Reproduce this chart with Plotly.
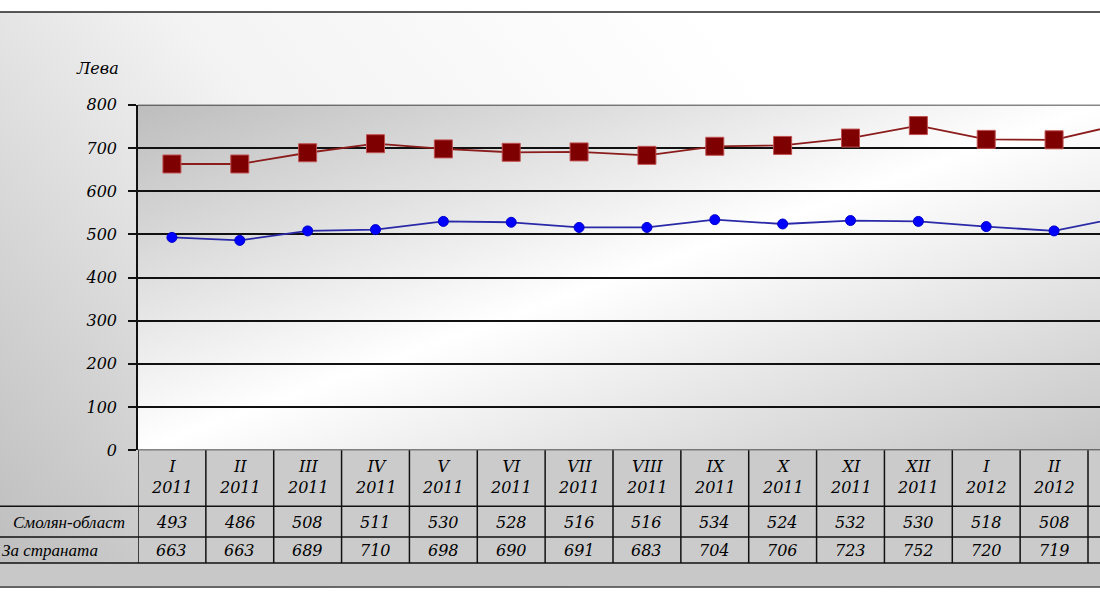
import base64
import plotly.graph_objects as go

# ---- data ----
months = ["I", "II", "III", "IV", "V", "VI", "VII", "VIII", "IX", "X", "XI", "XII", "I", "II", "III"]
years = ["2011"] * 12 + ["2012"] * 3
smolyan = [493, 486, 508, 511, 530, 528, 516, 516, 534, 524, 532, 530, 518, 508, 540]
country = [663, 663, 689, 710, 698, 690, 691, 683, 704, 706, 723, 752, 720, 719, 755]
row_labels = ["Смолян-област", "За страната"]
y_ticks = [0, 100, 200, 300, 400, 500, 600, 700, 800]
y_title = "Лева"

W, H = 1100, 600
# the page shows the figure 8px down and ~582px tall; map target pixel rows to paper coords
TOP, EFF_H = 8, 582
def py(p):
    return 1 - (p - TOP) / EFF_H

x = list(range(len(months)))
FONT = dict(family="DejaVu Serif", size=16, color="black", style="italic")
LFONT = dict(family="Liberation Serif", size=17, color="black", style="italic")

def svg_uri(svg):
    return "data:image/svg+xml;base64," + base64.b64encode(svg.encode()).decode()

outer_svg = ('<svg xmlns="http://www.w3.org/2000/svg" width="1100" height="577" viewBox="0 0 1100 577" '
             'preserveAspectRatio="none"><defs><linearGradient id="g" gradientUnits="userSpaceOnUse" '
             'x1="700" y1="0" x2="0" y2="577"><stop offset="0" stop-color="#ffffff"/>'
             '<stop offset="0.45" stop-color="#f3f3f3"/><stop offset="1" stop-color="#bcbcbc"/>'
             '</linearGradient></defs><rect x="0" y="0" width="1100" height="577" fill="url(#g)"/></svg>')

plot_svg = ('<svg xmlns="http://www.w3.org/2000/svg" width="100" height="100" viewBox="0 0 100 100" '
            'preserveAspectRatio="none"><defs><linearGradient id="p" x1="0" y1="0" x2="1" y2="1">'
            '<stop offset="0" stop-color="#bdbdbd"/><stop offset="0.5" stop-color="#ffffff"/>'
            '<stop offset="1" stop-color="#c6c6c6"/></linearGradient></defs>'
            '<rect x="0" y="0" width="100" height="100" fill="url(#p)"/></svg>')

fig = go.Figure()
fig.add_trace(go.Scatter(
    x=x, y=country, mode="lines+markers", name=row_labels[1],
    line=dict(color="#8b1c1c", width=1.8),
    marker=dict(symbol="square", size=18, color="#7f0000", line=dict(color="#c05050", width=1))))
fig.add_trace(go.Scatter(
    x=x, y=smolyan, mode="lines+markers", name=row_labels[0],
    line=dict(color="#2a2aa8", width=1.8),
    marker=dict(symbol="circle", size=10, color="#0000ff", line=dict(color="#0000cc", width=1))))

x_domain = [138 / W, 1]
x_range = [-0.5, 13.5 + 12 / 67.86]

shapes = []
shapes.append(dict(type="rect", xref="paper", yref="paper", x0=138 / W, x1=1, y0=py(563), y1=py(450),
                   fillcolor="#cbcbcb", line=dict(width=0), layer="below"))
shapes.append(dict(type="rect", xref="paper", yref="paper", x0=0, x1=1, y0=py(587), y1=py(563),
                   fillcolor="#c8c8c8", line=dict(width=0), layer="below"))
for yy, c in [(11, "#222222"), (587, "#444444")]:
    shapes.append(dict(type="line", xref="paper", yref="paper", x0=0, x1=1, y0=py(yy), y1=py(yy),
                       line=dict(color=c, width=1.5)))
for yy in [506, 537, 563]:
    shapes.append(dict(type="line", xref="paper", yref="paper", x0=0, x1=1, y0=py(yy), y1=py(yy),
                       line=dict(color="#111111", width=1.5)))
for i in range(len(months) + 1):
    shapes.append(dict(type="line", xref="x", yref="paper", x0=i - 0.5, x1=i - 0.5, y0=py(563), y1=py(450),
                       line=dict(color="#111111", width=1.5)))
for v in [y_ticks[0], y_ticks[-1]]:
    shapes.append(dict(type="line", xref="paper", yref="y", x0=138 / W, x1=1, y0=v, y1=v,
                       line=dict(color="#111111", width=1.5)))

annotations = [dict(text=y_title, xref="paper", yref="paper", x=97 / W, y=py(68), showarrow=False,
                    font=FONT, xanchor="center", yanchor="middle")]
for i in x:
    annotations.append(dict(text=f"{months[i]}<br>{years[i]}", xref="x", yref="paper", x=i, y=py(477),
                            showarrow=False, font=FONT, xanchor="center", yanchor="middle"))
    annotations.append(dict(text=str(smolyan[i]), xref="x", yref="paper", x=i, y=py(522),
                            showarrow=False, font=FONT, xanchor="center", yanchor="middle"))
    annotations.append(dict(text=str(country[i]), xref="x", yref="paper", x=i, y=py(550),
                            showarrow=False, font=FONT, xanchor="center", yanchor="middle"))
for lbl, yy, xr in [(row_labels[0], 522, 127), (row_labels[1], 550, 100)]:
    annotations.append(dict(text=lbl, xref="paper", yref="paper", x=xr / W, y=py(yy), showarrow=False,
                            font=LFONT, xanchor="right", yanchor="middle"))

fig.update_layout(
    width=W, height=H, margin=dict(l=0, r=0, t=0, b=0),
    paper_bgcolor="white", plot_bgcolor="rgba(0,0,0,0)",
    showlegend=False,
    images=[
        dict(source=svg_uri(outer_svg), xref="paper", yref="paper", x=0, y=py(11), sizex=1,
             sizey=py(11) - py(588), xanchor="left", yanchor="top", sizing="stretch", layer="below"),
        dict(source=svg_uri(plot_svg), xref="x domain", yref="y domain", x=0, y=1, sizex=1, sizey=1,
             xanchor="left", yanchor="top", sizing="stretch", layer="below"),
    ],
    xaxis=dict(domain=x_domain, range=x_range, showticklabels=False, showgrid=False, zeroline=False,
               ticks="", showline=False),
    yaxis=dict(domain=[py(450), py(104)], range=[0, 800], tickvals=y_ticks, ticks="outside", ticklen=8,
               tickcolor="#111111", tickwidth=1.5, showline=True, linecolor="#111111", linewidth=1.5,
               showgrid=True, gridcolor="#111111", gridwidth=1.5, zeroline=False,
               tickfont=FONT, ticklabelstandoff=8),
    shapes=shapes, annotations=annotations,
)

fig.write_html("out.html")
